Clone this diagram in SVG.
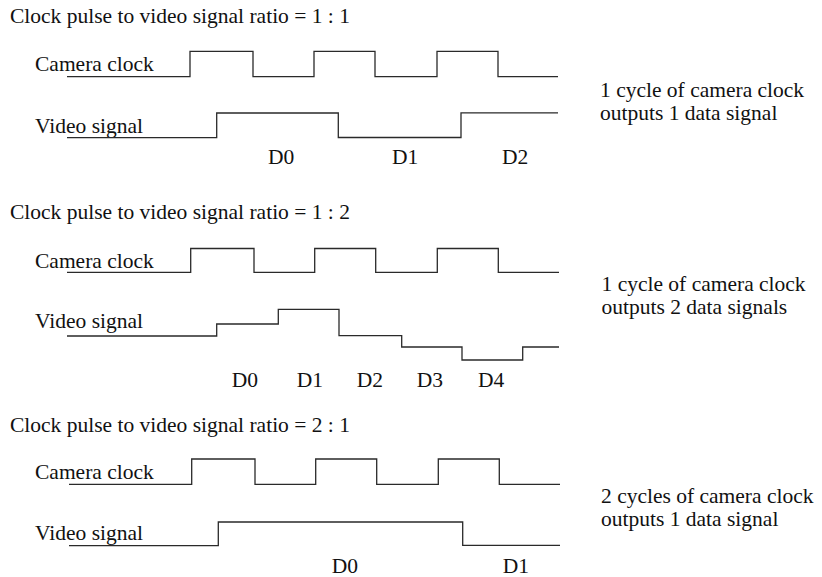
<svg xmlns="http://www.w3.org/2000/svg" width="822" height="577" viewBox="0 0 822 577">
<style>
text{font-family:"Liberation Serif","Times New Roman",serif;font-size:21.5px;fill:#111}
.w{fill:none;stroke:#2a2a2a;stroke-width:1.3}
</style>
<rect width="822" height="577" fill="#fff"/>
<g id="panel1">
<text x="10" y="22.5">Clock pulse to video signal ratio = 1 : 1</text>
<text x="35" y="70.5">Camera clock</text>
<text x="35" y="132.5">Video signal</text>
<path class="w" d="M67,76.7H190V51.3H253V76.7H314V51.3H375V76.7H437V51.3H498V76.7H558"/>
<path class="w" d="M67,137.7H216.7V113H338.3V137.5H461V112.8H558"/>
<text x="268" y="164">D0</text>
<text x="392" y="164">D1</text>
<text x="502" y="164">D2</text>
<text x="600" y="97">1 cycle of camera clock</text>
<text x="600" y="119.5">outputs 1 data signal</text>
</g>
<g id="panel2">
<text x="10" y="219">Clock pulse to video signal ratio = 1 : 2</text>
<text x="35" y="267.7">Camera clock</text>
<text x="35" y="328.3">Video signal</text>
<path class="w" d="M67,272.3H190.7V248.5H254V272.3H314.7V248.5H375.7V272.3H437.3V248.5H498.3V272.3H559"/>
<path class="w" d="M67,336H216.7V324H278.3V309.3H339V335.7H401.7V347H462V360H522.7V347H559"/>
<text x="231.7" y="387">D0</text>
<text x="296.7" y="387">D1</text>
<text x="356.7" y="387">D2</text>
<text x="416.7" y="387">D3</text>
<text x="478" y="387">D4</text>
<text x="601.5" y="290.7">1 cycle of camera clock</text>
<text x="601.5" y="314">outputs 2 data signals</text>
</g>
<g id="panel3">
<text x="10" y="431.7">Clock pulse to video signal ratio = 2 : 1</text>
<text x="35" y="479.3">Camera clock</text>
<text x="35" y="540">Video signal</text>
<path class="w" d="M69,484.3H191.7V459H255V484.3H315.7V459H376.7V484.3H438.3V459H499.3V484.3H560"/>
<path class="w" d="M69,545.7H218.3V522H462.7V545.3H560"/>
<text x="331.7" y="573">D0</text>
<text x="502.7" y="573">D1</text>
<text x="601" y="503">2 cycles of camera clock</text>
<text x="601" y="526">outputs 1 data signal</text>
</g>
<g id="connectors"></g>
</svg>
